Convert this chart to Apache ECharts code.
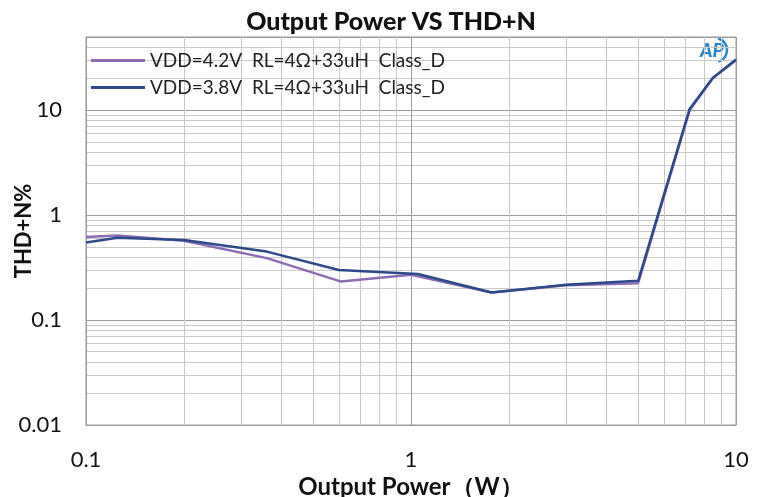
<!DOCTYPE html>
<html><head><meta charset="utf-8">
<script src="https://cdn.jsdelivr.net/npm/echarts@6/dist/echarts.min.js"></script>
<style>html,body{margin:0;padding:0;background:#fff}#c{width:764px;height:497px}</style>
</head><body><div id="c"></div>
<script>
const seriesNames = ['VDD=4.2V  RL=4Ω+33uH  Class_D', 'VDD=3.8V  RL=4Ω+33uH  Class_D'];
const power42 = [0.1, 0.125, 0.2, 0.36, 0.61, 1.0, 1.77, 3.0, 5.0, 7.2, 8.5, 10];
const thd42   = [0.62, 0.64, 0.57, 0.39, 0.233, 0.27, 0.183, 0.215, 0.225, 10, 20.4, 30];
const power38 = [0.1, 0.125, 0.2, 0.36, 0.6, 1.05, 1.77, 3.0, 5.0, 7.2, 8.5, 10];
const thd38   = [0.55, 0.61, 0.58, 0.45, 0.30, 0.275, 0.183, 0.217, 0.237, 10.3, 20.4, 30.5];
const xTickLabels = [0.1, 1, 10];
const yTickLabels = [0.01, 0.1, 1, 10];

const FONT = 'Lato';
function isTick(v, list) { return list.some(t => Math.abs(v - t) / t < 1e-6); }

const chart = echarts.init(document.getElementById('c'), null, {renderer: 'canvas'});
chart.setOption({
  backgroundColor: '#fff',
  animation: false,
  title: {
    text: 'Output Power VS THD+N', left: 386, top: 4, textAlign: 'center',
    textStyle: {fontFamily: FONT, fontWeight: 900, fontSize: 25, color: '#111'}
  },
  legend: {
    orient: 'vertical', left: 86, top: 46, itemWidth: 54, itemHeight: 3, itemGap: 8,
    icon: 'rect',
    textStyle: {fontFamily: FONT, fontSize: 19, color: '#222'},
    data: seriesNames
  },
  grid: {left: 86, right: 28, top: 37, bottom: 72, show: true, borderColor: '#9a9a9a', borderWidth: 1,
         containLabel: false, outerBoundsMode: 'none'},
  xAxis: {
    type: 'log', logBase: 10, min: 0.1, max: 10,
    axisLine: {show: true, lineStyle: {color: '#9a9a9a'}},
    axisTick: {show: false},
    axisLabel: {fontFamily: FONT, fontSize: 22, color: '#111', margin: 24,
      formatter: v => isTick(v, xTickLabels) ? String(+v.toPrecision(3)) : ''},
    splitLine: {show: true, lineStyle: {color: '#9a9a9a', width: 1}},
    minorTick: {show: false, splitNumber: 9},
    minorSplitLine: {show: true, lineStyle: {color: '#c9c9c9', width: 1}},
    name: 'Output Power（W）', nameLocation: 'middle', nameGap: 50, nameMoveOverlap: false,
    nameTextStyle: {fontFamily: FONT, fontWeight: 'bold', fontSize: 24, color: '#111'}
  },
  yAxis: {
    type: 'log', logBase: 10, min: 0.01, max: 50,
    axisLine: {show: true, lineStyle: {color: '#9a9a9a'}},
    axisTick: {show: false},
    axisLabel: {fontFamily: FONT, fontSize: 22, color: '#111', margin: 24,
      formatter: v => isTick(v, yTickLabels) ? String(+v.toPrecision(3)) : ''},
    splitLine: {show: true, lineStyle: {color: '#9a9a9a', width: 1}},
    minorTick: {show: false, splitNumber: 9},
    minorSplitLine: {show: true, lineStyle: {color: '#c9c9c9', width: 1}},
    name: 'THD+N%', nameLocation: 'middle', nameGap: 51, nameRotate: 90, nameMoveOverlap: false,
    nameTextStyle: {fontFamily: FONT, fontWeight: 'bold', fontSize: 22, color: '#111'}
  },
  series: [
    {name: seriesNames[0], type: 'line', symbol: 'none', smooth: false,
     lineStyle: {color: '#8c6cb4', width: 2.5}, itemStyle: {color: '#8c6cb4'},
     data: power42.map((p, i) => [p, thd42[i]])},
    {name: seriesNames[1], type: 'line', symbol: 'none', smooth: false,
     lineStyle: {color: '#2c4a8a', width: 2.5}, itemStyle: {color: '#2c4a8a'},
     data: power38.map((p, i) => [p, thd38[i]])}
  ],
  graphic: [{
    type: 'group', left: 693, top: 36, children: [
      {type: 'rect', shape: {x: 0, y: 0, width: 42, height: 26}, style: {fill: '#fff'}},
      {type: 'text', x: 7, y: 4, style: {text: 'AP', fontFamily: FONT, fontWeight: 900, fontStyle: 'italic', fontSize: 19, fill: '#2a86c8'}},
      {type: 'arc', shape: {cx: 22, cy: 13, r: 12, startAngle: -1.3, endAngle: 1.3}, style: {stroke: '#2a86c8', lineWidth: 2.5, fill: null}}
    ]
  }]
});
</script></body></html>
